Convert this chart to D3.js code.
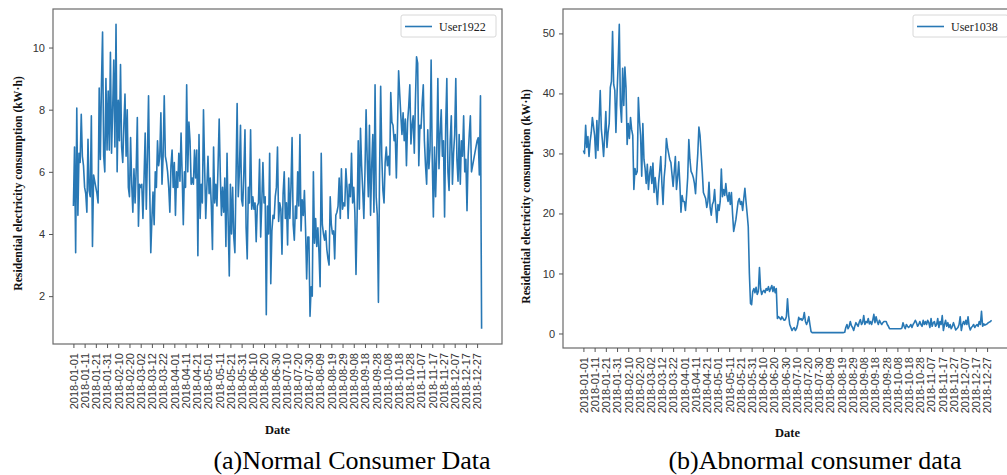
<!DOCTYPE html>
<html>
<head>
<meta charset="utf-8">
<script src="https://cdn.jsdelivr.net/npm/d3@7/dist/d3.min.js"></script>
<style>
  body { margin: 0; background: #fff; }
  svg { display: block; }
</style>
</head>
<body>
<div id="chart"></div>
<script>
// daily consumption, 2018-01-01 .. 2018-12-31
var user1922 = [
    4.9, 6.8, 3.4, 8.05, 4.6, 6.6, 6.3, 7.85, 6.5, 6.2,
    5.5, 5.3, 4.7, 7.05, 5.4, 5.2, 7.8, 3.6, 5.9, 5.7,
    5.5, 5.3, 5.0, 8.7, 6.4, 8.8, 10.5, 6.5, 6.0, 9.0,
    6.7, 8.6, 6.7, 9.85, 6.6, 8.0, 9.6, 6.8, 10.75, 6.0,
    8.3, 7.0, 9.45, 6.8, 6.3, 7.5, 8.5, 6.5, 8.0, 5.5,
    5.2, 7.1, 5.6, 4.7, 6.1, 5.0, 6.1, 7.75, 4.25, 5.6,
    5.5, 5.6, 4.5, 5.8, 7.25, 4.8, 6.5, 8.45, 5.6, 3.4,
    4.5, 5.35, 4.3, 6.0, 5.5, 7.0, 6.2, 6.5, 7.9, 5.6,
    6.5, 8.45, 6.5, 6.3, 6.0, 5.5, 4.7, 6.2, 6.7, 5.5,
    6.3, 4.6, 6.0, 5.5, 6.6, 5.7, 7.25, 5.9, 4.3, 6.0,
    5.5, 8.8, 6.0, 7.6, 7.0, 5.6, 5.8, 5.6, 6.7, 5.8,
    6.7, 3.3, 7.2, 4.5, 5.6, 5.0, 8.0, 6.2, 4.5, 5.5,
    6.5, 5.3, 5.8, 4.9, 3.5, 6.8, 5.0, 5.6, 4.9, 6.2,
    7.7, 5.9, 4.6, 5.5, 4.7, 5.8, 3.6, 6.6, 4.4, 2.65,
    5.6, 4.0, 5.5, 3.9, 3.4, 5.8, 8.2, 5.2, 6.0, 7.5,
    5.1, 4.9, 6.0, 7.35, 4.2, 3.2, 5.5, 5.0, 7.35, 4.8,
    5.2, 4.8, 5.0, 3.75, 4.9, 5.0, 6.4, 3.9, 5.0, 6.3,
    5.0, 5.2, 1.4, 4.9, 4.0, 6.6, 2.4, 4.1, 4.6, 4.5,
    5.2, 5.5, 6.8, 4.4, 5.0, 4.8, 3.35, 5.3, 6.0, 4.5,
    5.0, 3.65, 5.8, 4.5, 5.5, 7.1, 4.3, 3.8, 4.9, 4.5,
    6.0, 4.9, 7.2, 4.1, 5.1, 4.6, 5.4, 4.2, 2.55, 3.9,
    3.9, 1.35, 2.3, 2.0, 6.0, 3.7, 4.5, 3.6, 4.2, 3.4,
    2.3, 6.6, 4.3, 4.0, 3.8, 4.1, 3.5, 3.2, 3.0, 5.2,
    4.3, 4.0, 4.1, 3.2, 4.6, 4.7, 4.9, 5.8, 4.5, 6.1,
    4.8, 5.0, 4.9, 6.1, 5.5, 4.5, 5.6, 5.2, 6.6, 5.0,
    5.5, 4.7, 2.7, 4.6, 7.0, 4.8, 7.4, 6.2, 5.4, 4.5,
    6.0, 8.0, 6.4, 5.2, 7.5, 4.6, 6.2, 7.2, 4.7, 8.8,
    5.2, 4.6, 1.8, 5.9, 8.75, 6.5, 5.4, 5.0, 6.3, 6.8,
    6.2, 6.5, 5.9, 8.55, 7.6, 7.5, 7.0, 7.2, 5.8, 7.4,
    9.25, 8.5, 7.8, 7.2, 7.9, 7.0, 7.7, 6.2, 7.6, 8.1,
    8.8, 6.9, 7.5, 7.8, 6.6, 8.3, 9.7, 9.5, 6.2, 7.5,
    7.4, 8.2, 8.8, 7.0, 6.2, 5.6, 7.35, 6.1, 6.7, 9.6,
    6.4, 4.55, 6.8, 5.2, 6.6, 9.0, 6.1, 7.2, 8.0, 6.5,
    7.0, 4.55, 7.5, 9.0, 6.0, 5.4, 7.0, 7.8, 5.6, 6.6,
    7.2, 9.0, 6.4, 5.7, 7.2, 5.6, 7.0, 6.5, 7.8, 6.0,
    6.4, 4.75, 6.5, 7.2, 7.8, 6.0, 6.2, 6.4, 6.6, 6.8,
    7.0, 7.1, 5.9, 8.45, 0.95
];

var user1038 = [
    30.5, 30.0, 34.7, 31.0, 32.8, 29.5, 32.0, 33.5, 36.0, 34.5,
    33.0, 29.2, 35.5, 30.5, 35.5, 40.5, 34.0, 32.0, 29.5, 33.0,
    37.0, 31.0, 33.5, 35.0, 41.0, 42.0, 50.3, 41.5, 40.5, 33.5,
    40.0, 45.0, 51.5, 38.0, 35.2, 44.2, 38.0, 44.4, 41.0, 31.5,
    35.0, 32.5, 36.0, 34.0, 33.0, 24.0, 27.5, 26.5, 27.0, 39.3,
    35.5, 33.0, 26.2, 35.0, 29.0, 27.5, 25.0, 28.2, 24.0, 26.5,
    27.8, 25.0, 28.4, 23.5, 26.0, 24.0, 21.5, 25.0, 27.0, 29.5,
    25.0, 21.5, 26.0, 28.0, 32.5, 31.0, 30.0, 29.0, 28.5, 26.5,
    24.5, 27.0, 29.5, 24.0, 26.0, 28.6, 25.0, 20.2, 23.0, 22.0,
    22.0, 20.5, 23.0, 26.0, 32.3, 29.0, 27.0, 26.6, 26.0, 25.0,
    23.3, 27.0, 30.0, 34.4, 33.0, 30.0, 27.0, 23.5, 23.0, 22.5,
    21.0, 22.0, 25.2, 21.0, 19.7, 21.5, 22.0, 24.0, 21.0, 18.5,
    21.5, 20.5, 22.0, 27.4, 22.8, 24.0, 23.0, 25.0, 23.0, 22.0,
    23.5, 21.5, 23.5, 20.0, 17.0, 18.0, 19.0, 20.5, 22.0, 22.5,
    21.5, 22.0, 20.5, 22.5, 24.2, 22.0, 20.0, 17.8, 10.0, 5.0,
    4.8, 7.0, 7.5, 6.8, 7.7, 6.5, 7.0, 11.0, 7.5, 6.5,
    7.0, 7.2, 6.8, 7.5, 7.2, 7.8, 7.0, 7.5, 8.0, 7.0,
    7.8, 6.8, 7.5, 2.5, 2.8, 2.6, 2.3, 2.8, 2.5, 2.2,
    2.3, 2.8, 5.8, 3.0, 1.5, 1.0, 0.5, 0.8, 1.0, 0.5,
    0.8, 1.5, 2.7, 2.3, 2.5, 2.2, 2.5, 3.5, 2.0, 1.5,
    2.0, 2.8, 1.5, 0.3, 0.15, 0.15, 0.15, 0.15, 0.15, 0.15,
    0.15, 0.15, 0.15, 0.15, 0.15, 0.15, 0.15, 0.15, 0.15, 0.15,
    0.15, 0.15, 0.15, 0.15, 0.15, 0.15, 0.15, 0.15, 0.15, 0.15,
    0.15, 0.15, 0.15, 0.2, 1.0, 1.5, 0.8, 1.2, 2.0, 1.3,
    1.0, 0.5, 1.2, 1.8, 1.5, 1.2, 1.9, 2.3, 1.5, 1.8,
    3.0, 1.5, 2.0, 1.8, 2.5, 1.6, 2.0, 1.5, 2.2, 3.2,
    1.8, 2.8, 2.0, 1.5, 2.2, 1.8, 1.5, 1.8, 2.0, 2.0,
    2.0, 1.5, 1.2, 0.8, 0.8, 0.8, 0.8, 0.8, 0.8, 0.8,
    0.8, 0.8, 0.8, 0.8, 0.9, 1.8, 1.2, 0.8, 1.5, 1.2,
    1.0, 1.2, 1.5, 1.0, 1.5, 1.8, 2.2, 1.8, 1.2, 1.5,
    2.0, 1.5, 1.2, 2.2, 1.5, 2.0, 1.5, 2.2, 1.8, 1.0,
    2.5, 1.2, 1.8, 2.0, 1.2, 1.5, 2.5, 1.0, 2.0, 1.5,
    3.0, 0.5, 1.5, 2.2, 1.2, 1.8, 1.0, 1.5, 0.8, 1.2,
    1.8, 1.2, 0.6, 0.8, 1.0, 1.5, 2.8, 0.5, 1.5, 2.0,
    1.5, 2.2, 1.5, 2.8, 1.2, 0.6, 1.0, 1.2, 1.5, 1.0,
    1.3, 1.5, 1.2, 2.0, 1.5, 3.7, 1.2, 1.6, 1.4, 1.5,
    1.6, 1.8, 1.9, 2.0, 2.2
];

// x tick labels (every 10 days)
var dateTicks = [
    "2018-01-01", "2018-01-11", "2018-01-21", "2018-01-31", "2018-02-10",
    "2018-02-20", "2018-03-02", "2018-03-12", "2018-03-22", "2018-04-01",
    "2018-04-11", "2018-04-21", "2018-05-01", "2018-05-11", "2018-05-21",
    "2018-05-31", "2018-06-10", "2018-06-20", "2018-06-30", "2018-07-10",
    "2018-07-20", "2018-07-30", "2018-08-09", "2018-08-19", "2018-08-29",
    "2018-09-08", "2018-09-18", "2018-09-28", "2018-10-08", "2018-10-18",
    "2018-10-28", "2018-11-07", "2018-11-17", "2018-11-27", "2018-12-07",
    "2018-12-17", "2018-12-27"
];
var ticksA = [2, 4, 6, 8, 10];
var ticksB = [0, 10, 20, 30, 40, 50];

var W = 1007, H = 475;
var lineColor = "#2878b5";
var serif = "'Liberation Serif', 'Times New Roman', serif";
var parse = d3.timeParse("%Y-%m-%d");
var day0 = parse("2018-01-01");

var svg = d3.select("#chart").append("svg")
    .attr("width", W)
    .attr("height", H)
    .style("font-family", "'DejaVu Sans', sans-serif");

function drawPanel(p) {
    var data = p.values.map(function (v, i) {
        return { date: d3.timeDay.offset(day0, i), value: v };
    });

    // matplotlib style 5% margins
    var first = data[0].date, last = data[data.length - 1].date;
    var span = last - first;
    var x = d3.scaleTime()
        .domain([new Date(+first - span * 0.05), new Date(+last + span * 0.05)])
        .range([p.left, p.right]);
    var ext = d3.extent(p.values);
    var pad = (ext[1] - ext[0]) * 0.05;
    var y = d3.scaleLinear()
        .domain([ext[0] - pad, ext[1] + pad])
        .range([p.bottom, p.top]);

    var g = svg.append("g");

    // the line
    g.append("path")
        .datum(data)
        .attr("fill", "none")
        .attr("stroke", lineColor)
        .attr("stroke-width", 1.6)
        .attr("stroke-linejoin", "round")
        .attr("d", d3.line()
            .x(function (d) { return x(d.date); })
            .y(function (d) { return y(d.value); }));

    // frame
    g.append("rect")
        .attr("x", p.left)
        .attr("y", p.top)
        .attr("width", p.right - p.left)
        .attr("height", p.bottom - p.top)
        .attr("fill", "none")
        .attr("stroke", "#6a6a6a")
        .attr("stroke-width", 1.2);

    // x axis
    var xAxis = g.append("g")
        .attr("transform", "translate(0," + p.bottom + ")")
        .call(d3.axisBottom(x)
            .tickValues(dateTicks.map(parse))
            .tickSize(4)
            .tickFormat(d3.timeFormat("%Y-%m-%d")));
    xAxis.select(".domain").remove();
    xAxis.selectAll(".tick line").attr("stroke", "#555");
    xAxis.selectAll("text")
        .attr("transform", "rotate(-90)")
        .attr("x", -9)
        .attr("y", 0)
        .attr("dy", "0.35em")
        .style("text-anchor", "end")
        .style("font-size", "11px")
        .attr("fill", "#333");

    // y axis
    var yAxis = g.append("g")
        .attr("transform", "translate(" + p.left + ",0)")
        .call(d3.axisLeft(y).tickValues(p.ticks).tickSize(4).tickPadding(4));
    yAxis.select(".domain").remove();
    yAxis.selectAll(".tick line").attr("stroke", "#555");
    yAxis.selectAll("text")
        .style("font-size", "11px")
        .attr("fill", "#333");

    // y label
    g.append("text")
        .attr("transform", "translate(" + p.ylabelX + "," + ((p.top + p.bottom) / 2 + p.ylabelDy) + ") rotate(-90)")
        .attr("dy", "0.35em")
        .style("text-anchor", "middle")
        .style("font-family", serif)
        .style("font-weight", "bold")
        .style("font-size", "11.7px")
        .attr("fill", "#111")
        .text("Residential electricity consumption (kW\u00b7h)");

    // x label
    g.append("text")
        .attr("x", (p.left + p.right) / 2)
        .attr("y", p.dateY)
        .style("text-anchor", "middle")
        .style("font-family", serif)
        .style("font-weight", "bold")
        .style("font-size", "12.5px")
        .attr("fill", "#111")
        .text("Date");

    // legend
    var lg = g.append("g").attr("transform", "translate(" + p.legendX + "," + (p.top + 6) + ")");
    lg.append("rect")
        .attr("width", 95)
        .attr("height", 22)
        .attr("rx", 2)
        .attr("fill", "#fff")
        .attr("stroke", "#d8d8d8");
    lg.append("line")
        .attr("x1", 4).attr("x2", 31)
        .attr("y1", 11.5).attr("y2", 11.5)
        .attr("stroke", lineColor)
        .attr("stroke-width", 1.6);
    lg.append("text")
        .attr("x", 38)
        .attr("y", 11.5)
        .attr("dy", "0.35em")
        .style("font-family", serif)
        .style("font-size", "12px")
        .attr("fill", "#222")
        .text(p.name);

    // caption
    svg.append("text")
        .attr("x", p.captionX)
        .attr("y", 469)
        .style("text-anchor", "middle")
        .style("font-family", serif)
        .style("font-size", "26px")
        .attr("fill", "#000")
        .text(p.caption);
}

drawPanel({
    values: user1922, name: "User1922", ticks: ticksA,
    left: 53, right: 502, top: 9, bottom: 344,
    ylabelX: 18, ylabelDy: 7, dateY: 434, legendX: 401,
    captionX: 352, caption: "(a)Normal Consumer Data"
});

drawPanel({
    values: user1038, name: "User1038", ticks: ticksB,
    left: 563, right: 1012, top: 9, bottom: 348,
    ylabelX: 526, ylabelDy: 18, dateY: 437, legendX: 913,
    captionX: 815, caption: "(b)Abnormal consumer data"
});
</script>
</body>
</html>
